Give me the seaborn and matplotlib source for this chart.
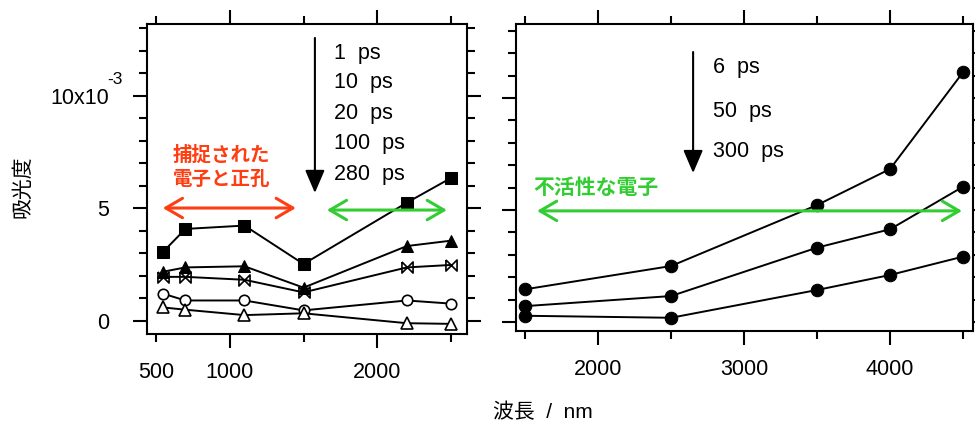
import pandas as pd
import matplotlib
matplotlib.use("Agg")
import matplotlib.pyplot as plt
import seaborn as sns

# wavelengths (nm) and absorbance (x1e-3)
wl_left = [550, 700, 1100, 1500, 2200, 2500]
abs_1ps = [3.08, 4.09, 4.24, 2.53, 5.26, 6.36]
abs_10ps = [2.19, 2.38, 2.43, 1.48, 3.33, 3.57]
abs_20ps = [1.96, 1.96, 1.83, 1.27, 2.38, 2.49]
abs_100ps = [1.21, 0.91, 0.91, 0.47, 0.91, 0.77]
abs_280ps = [0.60, 0.50, 0.26, 0.34, -0.10, -0.13]
left_labels = ["1  ps", "10  ps", "20  ps", "100  ps", "280  ps"]

wl_right = [1500, 2500, 3500, 4000, 4500]
abs_6ps = [1.46, 2.50, 5.22, 6.83, 11.15]
abs_50ps = [0.71, 1.16, 3.32, 4.14, 6.04]
abs_300ps = [0.28, 0.19, 1.43, 2.10, 2.92]
right_labels = ["6  ps", "50  ps", "300  ps"]

red = "#ff3d12"
green = "#33cc33"

sns.set_theme(style="ticks")
plt.rcParams["font.family"] = ["Liberation Sans", "Noto Sans CJK JP"]
plt.rcParams["font.size"] = 15
plt.rcParams["axes.linewidth"] = 1.5
plt.rcParams["text.color"] = "black"
plt.rcParams["axes.labelcolor"] = "black"
plt.rcParams["xtick.color"] = "black"
plt.rcParams["ytick.color"] = "black"

left_df = pd.DataFrame({"wl": wl_left * 5,
                        "A": abs_1ps + abs_10ps + abs_20ps + abs_100ps + abs_280ps,
                        "t": sum([[lab] * len(wl_left) for lab in left_labels], [])})
right_df = pd.DataFrame({"wl": wl_right * 3,
                         "A": abs_6ps + abs_50ps + abs_300ps,
                         "t": sum([[lab] * len(wl_right) for lab in right_labels], [])})

bowtie = [(-1, 1), (-1, -1), (1, 1), (1, -1), (-1, 1)]
left_style = {
    "1  ps": dict(marker="s", mfc="black", ms=8),
    "10  ps": dict(marker="^", mfc="black", ms=8),
    "20  ps": dict(marker=bowtie, mfc="none", ms=8, mew=1.2),
    "100  ps": dict(marker="o", mfc="white", ms=7.5, mew=1.2),
    "280  ps": dict(marker="^", mfc="white", ms=8, mew=1.2),
}

fig = plt.figure(figsize=(9.75, 4.21), dpi=100)
ax1 = fig.add_axes([147 / 975, 87 / 421, 320 / 975, 310 / 421])
ax2 = fig.add_axes([516 / 975, 90 / 421, 457 / 975, 307 / 421])

for lab in left_labels:
    sns.lineplot(data=left_df[left_df.t == lab], x="wl", y="A", ax=ax1, color="black",
                 lw=1.4, mec="black", errorbar=None, **left_style[lab])
for lab in right_labels:
    sns.lineplot(data=right_df[right_df.t == lab], x="wl", y="A", ax=ax2, color="black",
                 lw=1.4, marker="o", mfc="black", mec="black", ms=9, errorbar=None)

ax1.set_xlim(440, 2607)
ax1.set_ylim(-0.58, 13.2)
ax2.set_xlim(1438, 4568)
ax2.set_ylim(-0.40, 13.3)

ax1.set_xticks([1000, 2000], labels=["1000", "2000"])
ax1.set_xticks([500, 1500, 2500], labels=["500", "", ""], minor=True)
ax2.set_xticks([2000, 3000, 4000], labels=["2000", "3000", "4000"])
ax2.set_xticks([1500, 2500, 3500, 4500], minor=True)
for ax in (ax1, ax2):
    ax.set_yticks([0, 5, 10])
    ax.set_yticks(range(0, 14), minor=True)
    ax.set_xlabel("")
    ax.set_ylabel("")
    for s in ax.spines.values():
        s.set_visible(True)
        s.set_color("black")
    ax.tick_params(which="both", direction="out", top=True, right=True,
                   width=1.5, color="black", labelcolor="black", labelsize=15.5)
    ax.tick_params(which="major", length=10)
    ax.tick_params(which="minor", length=5.5)
    ax.tick_params(axis="x", which="major", pad=10)
    ax.tick_params(axis="x", which="minor", pad=14.5)
ax1.set_yticklabels(["0", "5", "10x10"])
ax1.tick_params(axis="y", pad=17)
ax2.set_yticklabels([])
ax1.annotate("-3", xy=(0, 10), xycoords=("axes fraction", "data"),
             xytext=(-40, 16), textcoords="offset pixels",
             ha="left", va="center", fontsize=12.5)

# delay arrows and labels
ax1.annotate("", xy=(1577, 5.69), xytext=(1577, 12.58),
             arrowprops=dict(arrowstyle="-|>,head_length=0.7,head_width=0.3",
                             color="black", lw=1.5, mutation_scale=20,
                             shrinkA=0, shrinkB=0))
for lab, y in zip(left_labels, [11.9, 10.58, 9.2, 7.87, 6.49]):
    ax1.text(1706, y, lab, ha="left", va="center", fontsize=15.5)

ax2.annotate("", xy=(2651, 6.65), xytext=(2651, 12.05),
             arrowprops=dict(arrowstyle="-|>,head_length=0.7,head_width=0.3",
                             color="black", lw=1.5, mutation_scale=20,
                             shrinkA=0, shrinkB=0))
for lab, y in zip(right_labels, [11.34, 9.38, 7.63]):
    ax2.text(2788, y, lab, ha="left", va="center", fontsize=15.5)

# region arrows
double = dict(arrowstyle="<->,head_length=0.6,head_width=0.35",
              lw=2.2, mutation_scale=20, shrinkA=0, shrinkB=0)
ax1.annotate("", xy=(547, 5.02), xytext=(1448, 5.02), arrowprops=dict(color=red, **double))
ax1.annotate("", xy=(1658, 4.93), xytext=(2471, 4.93), arrowprops=dict(color=green, **double))
ax2.annotate("", xy=(1582, 4.96), xytext=(4493, 4.96), arrowprops=dict(color=green, **double))

ax1.text(947, 7.38, "捕捉された", color=red, fontsize=14, fontweight="bold",
         ha="center", va="center")
ax1.text(947, 6.27, "電子と正孔", color=red, fontsize=14, fontweight="bold",
         ha="center", va="center")
ax2.text(1555, 5.98, "不活性な電子", color=green, fontsize=15, fontweight="bold",
         ha="left", va="center")

fig.text(493 / 975, 1 - 412 / 421, "波長  /  nm", ha="left", va="center", fontsize=15)
fig.text(23 / 975, 1 - 187 / 421, "吸光度", rotation=90, ha="center", va="center", fontsize=15)

fig.savefig("out.png", dpi=100)
